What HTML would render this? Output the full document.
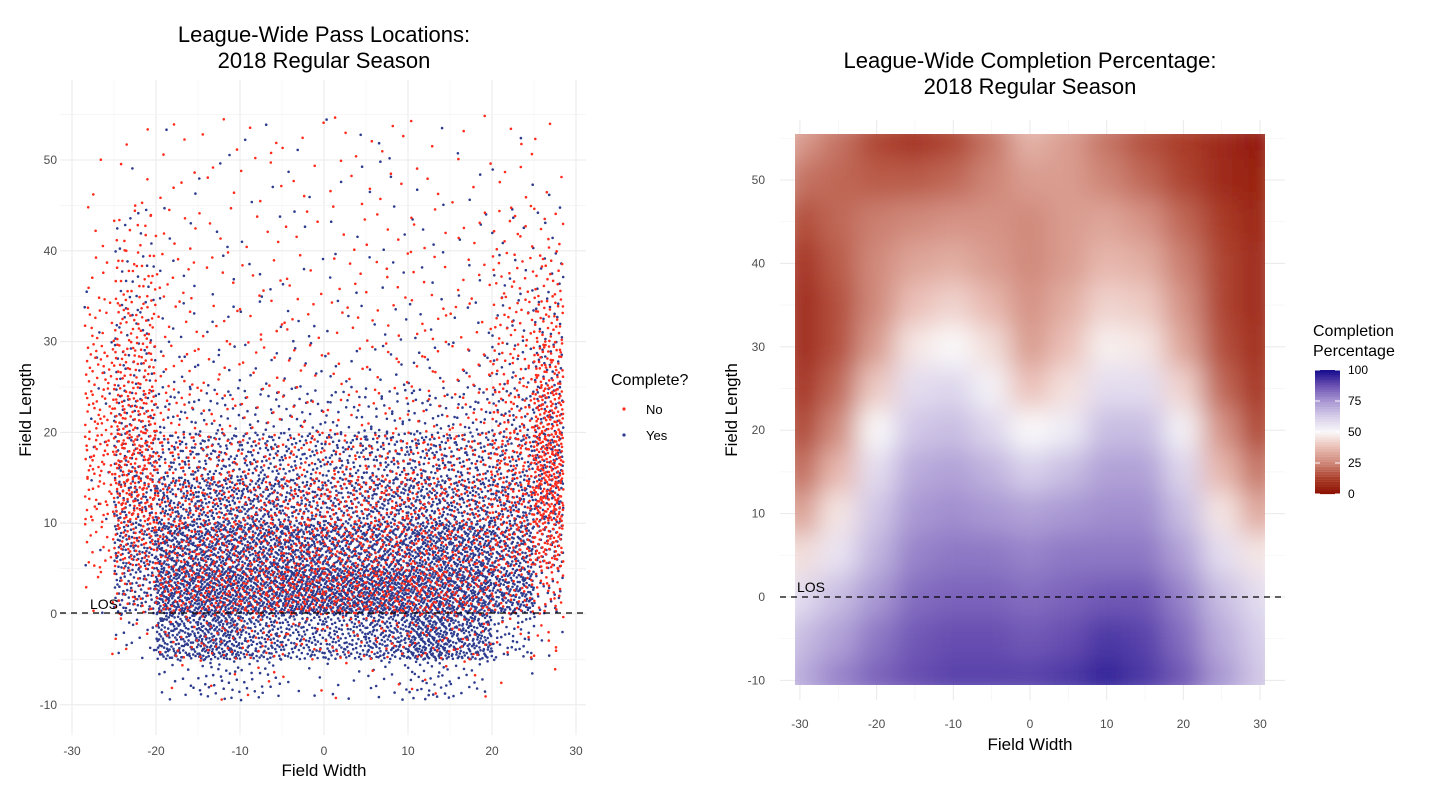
<!DOCTYPE html>
<html><head><meta charset="utf-8">
<style>
body{margin:0;background:#fff;font-family:"Liberation Sans",Arial,sans-serif;}
svg text{font-family:"Liberation Sans",Arial,sans-serif;}
</style></head>
<body>
<svg id="root" width="1429" height="804" viewBox="0 0 1429 804" xmlns="http://www.w3.org/2000/svg">
<defs>
<filter id="blur" x="-10%" y="-10%" width="120%" height="120%"><feGaussianBlur stdDeviation="13" edgeMode="duplicate"/></filter>
<clipPath id="hmclip"><rect x="795" y="134" width="470" height="551"/></clipPath>
</defs>
<rect width="1429" height="804" fill="#fff"/>
<g id="left-grid"></g>
<g id="right-grid"></g>
<g id="heat" clip-path="url(#hmclip)"><g id="heatcells" filter="url(#blur)"></g></g>
<g id="scatter"></g>

<line x1="60" x2="586" y1="613" y2="613" stroke="#000" stroke-width="1.2" stroke-dasharray="6,5"/>
<text x="90" y="609" font-size="14" fill="#000">LOS</text>
<line x1="780" x2="1285" y1="597" y2="597" stroke="#000" stroke-width="1.2" stroke-dasharray="6,5"/>
<text x="797" y="592" font-size="14" fill="#000">LOS</text>

<text x="324" y="42" font-size="22" text-anchor="middle" fill="#000">League-Wide Pass Locations:</text>
<text x="324" y="68" font-size="22" text-anchor="middle" fill="#000">2018 Regular Season</text>
<text x="1030" y="68" font-size="22" text-anchor="middle" fill="#000">League-Wide Completion Percentage:</text>
<text x="1030" y="94" font-size="22" text-anchor="middle" fill="#000">2018 Regular Season</text>

<text x="324" y="776" font-size="17" text-anchor="middle" fill="#000">Field Width</text>
<text transform="translate(31,410) rotate(-90)" font-size="17" text-anchor="middle" fill="#000">Field Length</text>
<text x="1030" y="750" font-size="17" text-anchor="middle" fill="#000">Field Width</text>
<text transform="translate(737,410) rotate(-90)" font-size="17" text-anchor="middle" fill="#000">Field Length</text>

<g>
<text x="611" y="385" font-size="16" fill="#000">Complete?</text>
<circle cx="624" cy="409" r="1.6" fill="#FF2B1C"/>
<text x="646" y="414" font-size="13" fill="#000">No</text>
<circle cx="624" cy="435" r="1.6" fill="#2D3C8E"/>
<text x="646" y="440" font-size="13" fill="#000">Yes</text>
</g>
<g>
<text x="1313" y="336" font-size="16" fill="#000">Completion</text>
<text x="1313" y="356" font-size="16" fill="#000">Percentage</text>
<g id="cbar"></g>
</g>
</svg>
<script>
// ---------- scatter data: point counts per 5x5 yard cell ----------
const xBinStarts = [-30,-25,-20,-15,-10,-5,0,5,10,15,20,25];
const yBinStarts = [50,45,40,35,30,25,20,15,10,5,0,-5,-10];
const countsNo = [
 [1,2,3,3,4,3,3,4,2,3,3,2],
 [1,3,4,3,4,3,4,4,3,3,4,2],
 [3,15,6,4,4,4,4,4,5,5,12,8],
 [5,25,9,5,6,5,5,6,6,6,18,18],
 [15,40,10,6,7,7,6,7,8,8,25,35],
 [25,55,12,8,8,8,7,8,9,10,30,55],
 [30,70,18,12,10,10,9,10,12,14,40,80],
 [35,90,35,28,24,28,28,28,32,32,60,100],
 [25,90,50,45,40,50,50,50,45,45,65,100],
 [15,65,55,55,55,60,60,60,55,50,60,65],
 [5,30,60,70,70,80,75,80,80,55,40,28],
 [1,5,15,25,25,15,15,20,25,20,8,8],
 [0,0,2,4,4,2,2,2,4,3,1,1]];
const countsYes = [
 [0,0,1,1,2,1,2,2,1,1,1,0],
 [0,1,1,2,2,2,2,3,2,2,2,1],
 [0,8,3,2,2,2,2,3,3,3,6,4],
 [1,12,4,3,3,3,3,4,3,3,8,9],
 [2,18,6,4,4,5,4,5,5,5,12,15],
 [3,25,9,8,6,8,6,8,8,10,18,25],
 [4,40,22,22,22,22,22,22,26,26,35,40],
 [4,55,55,70,70,55,62,70,70,62,62,55],
 [3,75,105,115,115,105,105,115,115,105,95,55],
 [2,95,175,185,185,175,185,185,185,175,145,45],
 [1,80,230,260,250,250,250,250,260,250,160,20],
 [0,15,150,200,120,100,110,140,220,170,40,4],
 [0,0,12,30,22,5,6,15,35,15,2,0]];
const xTicks = [-30,-20,-10,0,10,20,30];
const yTicksL = [-10,0,10,20,30,40,50];
const yTicksR = [-10,0,10,20,30,40,50];
// ---------- heatmap data: completion % at 5-yard grid ----------
const hmX = [-30,-25,-20,-15,-10,-5,0,5,10,15,20,25,30];
const hmY = [55,50,45,40,35,30,25,20,15,10,5,0,-5,-10];
const hmVals = [
 [30,22,14,10,14,22,35,30,22,16,12,8,3],
 [22,20,18,18,20,25,30,30,25,20,14,8,5],
 [15,20,24,26,28,28,26,30,32,28,20,12,7],
 [10,18,26,32,34,30,26,30,36,34,24,14,8],
 [8,16,26,38,42,36,28,34,42,40,28,14,8],
 [8,16,30,46,50,44,30,38,48,46,32,16,9],
 [10,20,40,58,60,52,38,45,58,58,42,20,11],
 [14,26,50,64,66,60,50,54,66,66,52,28,14],
 [20,36,58,70,72,68,62,66,72,72,60,36,22],
 [30,46,64,74,76,74,72,74,76,76,66,46,32],
 [44,56,68,78,80,80,78,80,80,80,72,58,46],
 [58,66,74,82,84,84,82,84,86,86,78,66,58],
 [66,72,80,86,88,88,86,88,92,90,82,70,62],
 [70,78,84,88,90,90,90,92,96,92,86,74,64]];
const cbarTicks = [0,25,50,75,100];

const NS="http://www.w3.org/2000/svg";
function mk(tag,attrs,parent){const e=document.createElementNS(NS,tag);for(const k in attrs)e.setAttribute(k,attrs[k]);parent.appendChild(e);return e;}
const lx=v=>324+v*8.4, ly=v=>614-v*9.08;
const rx=v=>1030+v*7.67, ry=v=>597-v*8.34;

const lg=document.getElementById('left-grid');
for(let v=-30;v<=30;v+=5){const l=mk('line',{x1:lx(v),x2:lx(v),y1:80,y2:735,stroke:v%10===0?'#ebebeb':'#f4f4f4','stroke-width':v%10===0?1.1:0.7},lg);}
for(let v=-10;v<=55;v+=5){const l=mk('line',{x1:60,x2:586,y1:ly(v),y2:ly(v),stroke:v%10===0?'#ebebeb':'#f4f4f4','stroke-width':v%10===0?1.1:0.7},lg);}
const rg=document.getElementById('right-grid');
for(let v=-30;v<=30;v+=5){const l=mk('line',{x1:rx(v),x2:rx(v),y1:120,y2:700,stroke:v%10===0?'#ebebeb':'#f4f4f4','stroke-width':v%10===0?1.1:0.7},rg);}
for(let v=-10;v<=55;v+=5){const l=mk('line',{x1:780,x2:1285,y1:ry(v),y2:ry(v),stroke:v%10===0?'#ebebeb':'#f4f4f4','stroke-width':v%10===0?1.1:0.7},rg);}

const root=document.getElementById('root');
xTicks.forEach(v=>{const t=mk('text',{x:lx(v),y:755,'font-size':12,fill:'#4d4d4d','text-anchor':'middle'},root);t.textContent=v;});
yTicksL.forEach(v=>{const t=mk('text',{x:57,y:ly(v)+4,'font-size':12,fill:'#4d4d4d','text-anchor':'end'},root);t.textContent=v;});
xTicks.forEach(v=>{const t=mk('text',{x:rx(v),y:728,'font-size':12,fill:'#4d4d4d','text-anchor':'middle'},root);t.textContent=v;});
yTicksR.forEach(v=>{const t=mk('text',{x:765,y:ry(v)+4,'font-size':12,fill:'#4d4d4d','text-anchor':'end'},root);t.textContent=v;});

const stops=[[0,[139,14,0]],[12.5,[170,60,40]],[25,[206,133,118]],[37.5,[234,190,181]],[50,[250,249,250]],[62.5,[214,205,233]],[75,[165,147,209]],[87.5,[106,80,178]],[100,[20,10,140]]];
function col(v){v=Math.max(0,Math.min(100,v));for(let i=0;i<stops.length-1;i++){const a=stops[i],b=stops[i+1];if(v<=b[0]){const t=(v-a[0])/(b[0]-a[0]);const c=a[1].map((x,k)=>Math.round(x+(b[1][k]-x)*t));return `rgb(${c})`;}}return 'rgb(20,10,140)';}

const hc=document.getElementById('heatcells');
hmY.forEach((yv,i)=>hmX.forEach((xv,j)=>{
  const r=mk('rect',{x:rx(xv-2.5)-0.5,y:ry(yv+2.5)-0.5,width:rx(2.5)-rx(-2.5)+1,height:ry(-2.5)-ry(2.5)+1,fill:col(hmVals[i][j])},hc);
  
  
}));

const cb=document.getElementById('cbar');
for(let k=0;k<50;k++){const v0=k*2;const r=mk('rect',{x:1315,y:494-(v0+2)*1.24,width:25,height:2.6,fill:col(v0+1)},cb);}
cbarTicks.forEach(v=>{const y=494-v*1.24;
 const a=mk('line',{x1:1315,x2:1320,y1:y,y2:y,stroke:'#fff','stroke-width':1},cb);
 const b=mk('line',{x1:1335,x2:1340,y1:y,y2:y,stroke:'#fff','stroke-width':1},cb);
 const t=mk('text',{x:1348,y:y+4,'font-size':12,fill:'#000'},cb);t.textContent=v;});

function halton(i,b){let f=1,r=0;while(i>0){f/=b;r+=f*(i%b);i=Math.floor(i/b);}return r;}
const sc=document.getElementById('scatter');
let seq=1;
function drawSeries(counts,color,name){
  let d='';
  counts.forEach((row,i)=>row.forEach((n,j)=>{
    const x0=Math.max(xBinStarts[j],-28.5),x1=Math.min(xBinStarts[j]+5,28.5);
    const y0=Math.max(yBinStarts[i],-9.5),y1=Math.min(yBinStarts[i]+5,55.5);
    for(let k=0;k<n;k++){seq++;
      const px=lx(x0+(x1-x0)*halton(seq,2)),py=ly(y0+(y1-y0)*halton(seq,3));
      d+=`M${(px-1.3).toFixed(1)},${py.toFixed(1)}a1.3,1.3 0 1,0 2.6,0a1.3,1.3 0 1,0 -2.6,0`;
    }}));
  const p=mk('path',{d:d,fill:color},sc);
  
  
}
drawSeries(countsYes,'#2D3C8E','points-complete-yes');
drawSeries(countsNo,'#FF2B1C','points-complete-no');
</script>
</body></html>
